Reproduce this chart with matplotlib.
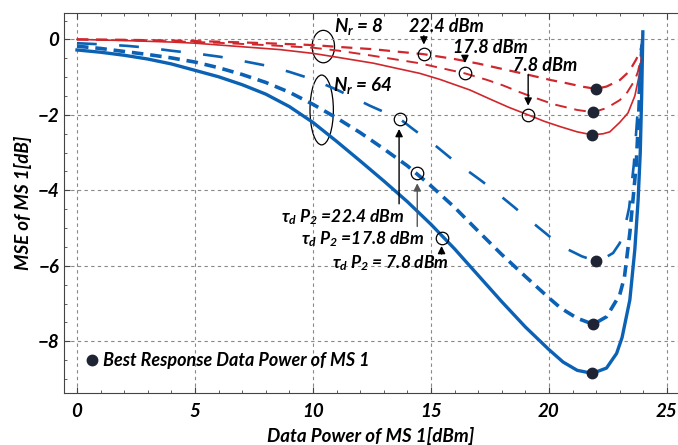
import numpy as np
import matplotlib.pyplot as plt
from matplotlib.patches import Ellipse
from matplotlib.ticker import MultipleLocator

plt.rcParams['font.family'] = ['Lato', 'DejaVu Sans']
plt.rcParams['font.weight'] = 'bold'
plt.rcParams['font.style'] = 'italic'
plt.rcParams['axes.labelweight'] = 'bold'
plt.rcParams['mathtext.fontset'] = 'custom'
plt.rcParams['mathtext.it'] = 'Lato:italic:bold'
plt.rcParams['mathtext.rm'] = 'Lato:italic:bold'

# Nr = 64, blue curves
x_b78 = [0, 1, 2, 3, 4, 5, 6, 7, 8, 9, 10, 11, 12, 13, 14, 15, 16, 17, 18, 19, 20,
         20.6, 21.2, 21.84, 22.44, 22.87, 23.1, 23.43, 23.64, 23.78, 23.87, 23.93, 23.98]
y_b78 = [-0.28, -0.34, -0.42, -0.52, -0.65, -0.82, -0.99, -1.2, -1.45, -1.78, -2.2,
         -2.7, -3.22, -3.75, -4.3, -4.9, -5.55, -6.25, -6.95, -7.62, -8.22,
         -8.55, -8.77, -8.85, -8.71, -8.32, -7.9, -6.9, -5.57, -4.25, -3.0, -1.5, 0.2]

x_b178 = [0, 1, 2, 3, 4, 5, 6, 7, 8, 9, 10, 11, 12, 13, 14, 15, 16, 17, 18, 19, 20,
          20.5, 21.2, 21.88, 22.44, 23.0, 23.2, 23.43, 23.6, 23.7, 23.78, 23.86, 23.95]
y_b178 = [-0.18, -0.24, -0.32, -0.4, -0.49, -0.6, -0.75, -0.93, -1.14, -1.4, -1.72,
          -2.08, -2.47, -2.9, -3.35, -3.88, -4.45, -5.08, -5.7, -6.28, -6.85,
          -7.12, -7.39, -7.55, -7.35, -6.77, -6.3, -5.12, -4.0, -3.3, -2.3, -1.2, 0.0]

x_b224 = [0, 1, 2.1, 3, 4, 5, 6.06, 7, 8.15, 9, 10, 11, 11.57, 12.42, 13.69, 14.25,
          15.24, 16, 17.08, 17.5, 18.5, 19.1, 20.1, 20.75, 21.4, 21.98, 22.37, 22.72,
          23.0, 23.2, 23.4, 23.6, 23.75, 23.85, 23.95]
y_b224 = [-0.1, -0.13, -0.17, -0.22, -0.3, -0.37, -0.46, -0.57, -0.71, -0.86, -1.06,
          -1.33, -1.5, -1.76, -2.11, -2.38, -2.84, -3.23, -3.72, -3.92, -4.43, -4.75,
          -5.26, -5.55, -5.75, -5.87, -5.79, -5.66, -5.4, -5.04, -4.46, -3.3, -2.0,
          -1.0, 0.0]

# Nr = 8, red curves
x_r78 = [0, 2, 4, 5, 6.9, 8.6, 10, 11, 12.56, 13.5, 14.53, 15.38, 16.65, 17.5, 18.3,
         19.12, 19.8, 20.47, 21.2, 21.84, 22.3, 22.58, 23.0, 23.35, 23.64, 23.86, 23.97]
y_r78 = [0, -0.03, -0.07, -0.1, -0.19, -0.27, -0.37, -0.47, -0.63, -0.76, -0.9, -1.06,
         -1.34, -1.58, -1.8, -2.0, -2.17, -2.31, -2.45, -2.53, -2.5, -2.45, -2.2,
         -1.95, -1.5, -0.85, 0.0]

x_r178 = [0, 2, 4, 6, 8, 10, 11.1, 12.5, 13.5, 14.5, 15.0, 16.44, 17.36, 18.06, 18.77,
          19.2, 20.2, 21.2, 21.88, 22.44, 23.0, 23.29, 23.64, 23.77, 23.9, 24.0]
y_r178 = [0, -0.02, -0.05, -0.09, -0.15, -0.22, -0.3, -0.43, -0.53, -0.63, -0.7, -0.9,
          -1.07, -1.22, -1.4, -1.5, -1.72, -1.87, -1.93, -1.82, -1.61, -1.43, -1.08,
          -0.86, -0.5, -0.1]

x_r224 = [0, 2, 4, 6, 8, 10, 11.1, 12.56, 13.5, 14.67, 16, 17, 18, 19, 20.1, 20.75,
          21.4, 21.98, 22.44, 23.0, 23.4, 23.68, 23.86, 23.95]
y_r224 = [0, -0.01, -0.03, -0.06, -0.1, -0.15, -0.2, -0.26, -0.32, -0.39, -0.52, -0.64,
          -0.78, -0.92, -1.08, -1.16, -1.25, -1.31, -1.25, -1.08, -0.85, -0.55, -0.33,
          -0.1]

# best response points (black dots)
best_x = [21.98, 21.88, 21.84, 21.98, 21.88, 21.84]
best_y = [-1.31, -1.93, -2.53, -5.87, -7.55, -8.85]

# marked points (open circles)
circ_x = [14.7, 16.44, 19.12, 13.69, 14.39, 15.45]
circ_y = [-0.39, -0.88, -2.0, -2.11, -3.55, -5.25]

red = '#d0272d'
blue = '#0b62b5'

fig = plt.figure(figsize=(6.78, 4.45), dpi=100)
ax = fig.add_axes([0.0944, 0.1169, 0.9056, 0.8539])

ax.plot(x_r224, y_r224, color=red, lw=1.6, ls=(0, (5, 3.5)))
ax.plot(x_r178, y_r178, color=red, lw=1.4, ls=(0, (6, 4)))
ax.plot(x_r78, y_r78, color=red, lw=1.2)
ax.plot(x_b224, y_b224, color=blue, lw=1.9, ls=(0, (7.5, 8.5)))
ax.plot(x_b178, y_b178, color=blue, lw=2.6, ls=(0, (3.2, 1.9)))
ax.plot(x_b78, y_b78, color=blue, lw=2.4)

ax.plot(best_x, best_y, 'o', color='#1e2433', ms=7.5, ls='none',
        label='Best Response Data Power of MS 1', zorder=5)
ax.plot(circ_x, circ_y, 'o', mfc='none', mec='k', mew=0.9, ms=9, ls='none', zorder=5)

# ellipses for Nr groups
ax.add_patch(Ellipse((10.44, -0.19), 0.95, 0.86, fill=False, ec='k', lw=0.9))
ax.add_patch(Ellipse((10.37, -1.87), 0.99, 1.85, fill=False, ec='k', lw=0.9))
ax.text(11.95, 0.35, r'$N_r$ = 8', fontsize=13.5, ha='center', va='center')
ax.text(12.12, -1.21, r'$N_r$ = 64', fontsize=13.5, ha='center', va='center')

# arrows and labels, Nr = 8
arr = dict(arrowstyle='-|>', color='k', lw=1.0, mutation_scale=11)
ax.text(15.66, 0.34, '22.4 dBm', fontsize=13, ha='center', va='center')
ax.annotate('', xy=(14.7, -0.21), xytext=(14.7, 0.17), arrowprops=arr)
ax.text(17.5, -0.21, '17.8 dBm', fontsize=13, ha='center', va='center')
ax.annotate('', xy=(16.44, -0.7), xytext=(16.44, -0.38), arrowprops=arr)
ax.text(19.83, -0.7, '7.8 dBm', fontsize=13, ha='center', va='center')
ax.annotate('', xy=(19.12, -1.83), xytext=(19.12, -0.86), arrowprops=arr)

# arrows and labels, Nr = 64
ax.text(11.25, -4.72, r'$\tau_d$ $P_2$ =22.4 dBm', fontsize=12.5, ha='center', va='center')
ax.annotate('', xy=(13.65, -2.3), xytext=(13.65, -4.43), arrowprops=arr)
ax.text(12.1, -5.29, r'$\tau_d$ $P_2$ =17.8 dBm', fontsize=12.5, ha='center', va='center')
ax.annotate('', xy=(14.42, -3.74), xytext=(14.42, -5.03),
            arrowprops=dict(arrowstyle='-|>', color='#555555', lw=1.0, mutation_scale=11))
ax.text(13.3, -5.93, r'$\tau_d$ $P_2$ = 7.8 dBm', fontsize=12.5, ha='center', va='center')
ax.annotate('', xy=(15.45, -5.4), xytext=(15.45, -5.76), arrowprops=arr)

ax.set_xlim(-0.55, 25.47)
ax.set_ylim(-9.37, 0.70)
ax.xaxis.set_major_locator(MultipleLocator(5))
ax.xaxis.set_minor_locator(MultipleLocator(1))
ax.yaxis.set_major_locator(MultipleLocator(2))
ax.yaxis.set_minor_locator(MultipleLocator(0.5))
ax.tick_params(which='both', direction='in', top=True, right=False, labelsize=13.5,
               color='#444444')
ax.tick_params(which='major', length=4)
ax.tick_params(which='minor', length=2.5)
ax.tick_params(axis='x', pad=7)
for lbl in ax.get_xticklabels() + ax.get_yticklabels():
    lbl.set_fontweight('bold')
    lbl.set_fontstyle('italic')
ax.spines['right'].set_visible(False)
for s in ['left', 'top', 'bottom']:
    ax.spines[s].set_color('#444444')
ax.grid(True, which='major', color='#888888', ls=(0, (3, 3)), lw=0.8)

ax.set_xlabel('Data Power of MS 1[dBm]', fontsize=13.5, fontweight='bold', labelpad=5)
ax.set_ylabel('MSE of MS 1[dB]', fontsize=13.5, fontweight='bold', labelpad=4)

ax.legend(loc='lower left', bbox_to_anchor=(0.01, 0.02), frameon=False,
          handlelength=0.6, handletextpad=0.3, prop=dict(size=13, weight='bold', style='italic'))

fig.savefig('out.png', dpi=100)
